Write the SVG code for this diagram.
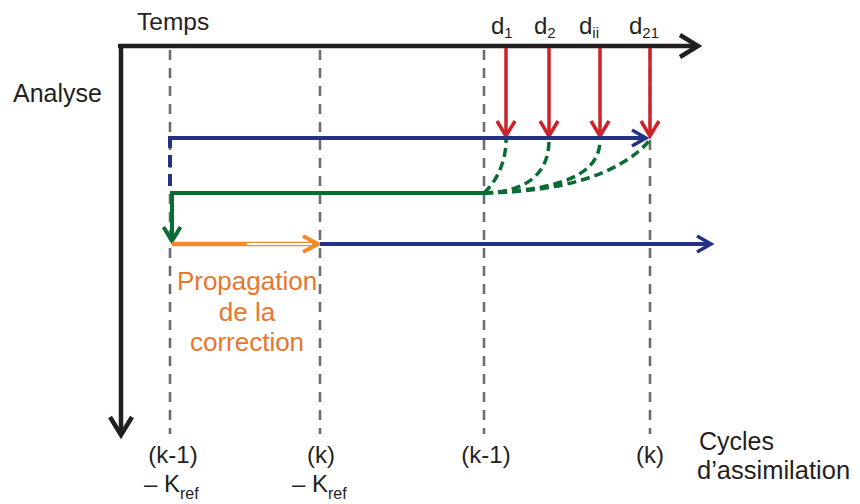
<svg xmlns="http://www.w3.org/2000/svg" width="860" height="504" viewBox="0 0 860 504">
<style>
text{font-family:"Liberation Sans",Arial,sans-serif;fill:#231f20}
.grid{stroke:#6e6e6e;stroke-width:2.6;stroke-dasharray:10 8;fill:none}
.red{stroke:#cc2229;stroke-width:3.5;fill:none}
.blue{stroke:#253186;stroke-width:4;fill:none}
.green{stroke:#0a6b35;stroke-width:4;fill:none}
.gdash{stroke:#0a6b35;stroke-width:3.5;fill:none;stroke-dasharray:9 5}
.orange{stroke:#f08a2c;stroke-width:4.5;fill:none}
.axis{stroke:#231f20;stroke-width:4.5;fill:none}
.lbl{font-size:24px}
.or{fill:#e8762d;font-size:26px}
</style>
<defs>
<marker id="mRed" markerUnits="userSpaceOnUse" orient="auto" overflow="visible" markerWidth="1" markerHeight="1"><path d="M-15,-9 L0,0 L-15,9" fill="none" stroke="#cc2229" stroke-width="3.5"/></marker>
<marker id="mBlue" markerUnits="userSpaceOnUse" orient="auto" overflow="visible" markerWidth="1" markerHeight="1"><path d="M-14,-8 L0,0 L-14,8" fill="none" stroke="#253186" stroke-width="3.5"/></marker>
<marker id="mGreen" markerUnits="userSpaceOnUse" orient="auto" overflow="visible" markerWidth="1" markerHeight="1"><path d="M-14,-8.5 L0,0 L-14,8.5" fill="none" stroke="#0a6b35" stroke-width="4"/></marker>
<marker id="mOrange" markerUnits="userSpaceOnUse" orient="auto" overflow="visible" markerWidth="1" markerHeight="1"><path d="M-15,-8 L0,0 L-15,8" fill="none" stroke="#f08a2c" stroke-width="4"/></marker>
<marker id="mBlack" markerUnits="userSpaceOnUse" orient="auto" overflow="visible" markerWidth="1" markerHeight="1"><path d="M-18,-11 L0,0 L-18,11" fill="none" stroke="#231f20" stroke-width="4.5"/></marker>
</defs>

<g id="grid">
<line class="grid" x1="170" y1="50" x2="170" y2="434"/>
<line class="grid" x1="320" y1="50" x2="320" y2="434"/>
<line class="grid" x1="484" y1="50" x2="484" y2="434"/>
<line class="grid" x1="650" y1="50" x2="650" y2="434"/>
</g>

<g id="axes">
<line class="axis" x1="121" y1="44" x2="121" y2="435" marker-end="url(#mBlack)"/>
<line class="axis" x1="118" y1="46" x2="698" y2="46" marker-end="url(#mBlack)"/>
</g>

<g id="connectors">
<line class="red" x1="506" y1="48" x2="506" y2="136" marker-end="url(#mRed)"/>
<line class="red" x1="549" y1="48" x2="549" y2="136" marker-end="url(#mRed)"/>
<line class="red" x1="600" y1="48" x2="600" y2="136" marker-end="url(#mRed)"/>
<line class="red" x1="650" y1="48" x2="650" y2="136" marker-end="url(#mRed)"/>
<path class="blue" d="M170,138 H646" marker-end="url(#mBlue)"/>
<path class="blue" d="M170,136 V187" style="stroke-dasharray:12 7"/>
<path class="gdash" d="M484,193 C498,180 506,160 506,140"/>
<path class="gdash" d="M484,193 C525,192 549,175 549,140"/>
<path class="gdash" d="M484,193 C560,190 600,175 600,140"/>
<path class="gdash" d="M484,193 C560,192 620,175 650,140"/>
<path class="green" d="M484,193 H172 V241" marker-end="url(#mGreen)"/>
<path class="orange" d="M172,244 H318" marker-end="url(#mOrange)"/>
<line x1="247" y1="244" x2="312" y2="244" stroke="#fff" stroke-width="1.8"/>
<path class="blue" d="M320,244 H711" marker-end="url(#mBlue)"/>
</g>

<g id="labels">
<text x="137" y="30" font-size="24.5">Temps</text>
<text x="13" y="102" font-size="25">Analyse</text>
<text x="491" y="34" font-size="24">d<tspan font-size="15" dy="4">1</tspan></text>
<text x="534" y="34" font-size="24">d<tspan font-size="15" dy="4">2</tspan></text>
<text x="579" y="34" font-size="24">d<tspan font-size="15" dy="4">ii</tspan></text>
<text x="629" y="34" font-size="24">d<tspan font-size="15" dy="4">21</tspan></text>
</g>

<g id="propagation">
<text class="or" x="247" y="290" text-anchor="middle">Propagation</text>
<text class="or" x="247" y="321" text-anchor="middle">de la</text>
<text class="or" x="247" y="351" text-anchor="middle">correction</text>
</g>

<g id="cycles">
<text class="lbl" x="173" y="463" text-anchor="middle">(k-1)</text>
<text class="lbl" x="144" y="492">– K<tspan font-size="16" dy="7">ref</tspan></text>
<text class="lbl" x="321" y="463" text-anchor="middle">(k)</text>
<text class="lbl" x="292" y="492">– K<tspan font-size="16" dy="7">ref</tspan></text>
<text class="lbl" x="486" y="463" text-anchor="middle">(k-1)</text>
<text class="lbl" x="650" y="463" text-anchor="middle">(k)</text>
<text x="699" y="450" font-size="25">Cycles</text>
<text x="697" y="479" font-size="25.5">d’assimilation</text>
</g>
</svg>
